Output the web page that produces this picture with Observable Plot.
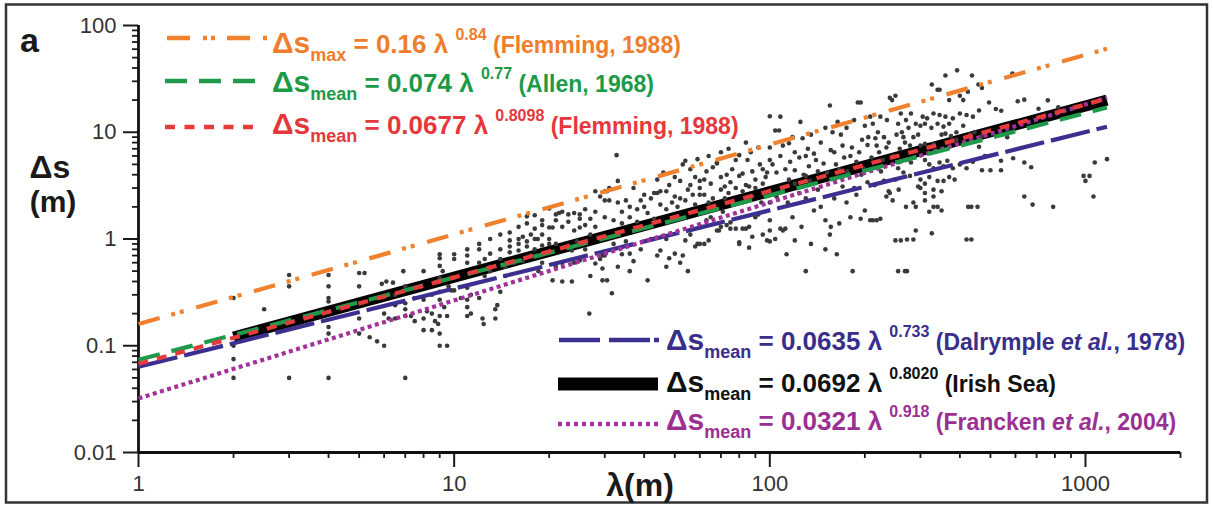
<!DOCTYPE html>
<html><head><meta charset="utf-8">
<script src="https://cdn.jsdelivr.net/npm/d3@7"></script>
<script src="https://cdn.jsdelivr.net/npm/@observablehq/plot@0.6"></script>
<style>body{margin:0;background:#fff} svg{display:block}</style>
</head><body><div id="chart"></div>
<script>
// ---------- data ----------
const xMajorTicks = [1, 10, 100, 1000];
const xMinorTicks = [2,3,4,5,6,7,8,9,20,30,40,50,60,70,80,90,200,300,400,500,600,700,800,900,2000];
const yMajorTicks = [0.01, 0.1, 1, 10, 100];
const yMinorTicks = [0.02,0.03,0.04,0.05,0.06,0.07,0.08,0.09,0.2,0.3,0.4,0.5,0.6,0.7,0.8,0.9,2,3,4,5,6,7,8,9,20,30,40,50,60,70,80,90];

// fitted relations (endpoints of each straight log-log line)
const fitIds = ["maxFlemming","allen","meanFlemming","dalrymple","irishSea","francken"];
const fitColors = ["#f0822f","#1f9a4b","#e63a3b","#3b2f8f","#000000","#a2329b"];
const fitLambdaStart = [1, 1, 1, 1, 2, 1];
const fitLambdaEnd = [1170, 1170, 1170, 1170, 1170, 1170];
const fitDsStart = [0.16, 0.074, 0.0677, 0.0635, 0.1207, 0.0321];
const fitDsEnd = [60.5, 17.05, 20.66, 11.27, 19.98, 21.06];

// observed bedforms [lambda (m), delta s (m)]
const ptsA = [[2,0.28],[2,0.1],[2,0.075],[2,0.05],[2.5,0.22],[3,0.46],[3,0.36],[3,0.05],
[4,0.46],[4,0.36],[4,0.28],[4,0.26],[4,0.15],[4,0.13],[4,0.05],
[5,0.48],[5,0.36],[5,0.18],[5,0.13],[5.2,0.48],
[5.4,0.12],[5.7,0.11],[6,0.1],[5.9,0.38],[6.1,0.4],[6.4,0.39],[6,0.2],[6.2,0.18],[6.5,0.18],
[6.5,0.3],[6.5,0.24],[6.9,0.5],[7,0.36],[7,0.25],[7,0.22],[7,0.19],[7,0.05],[7.3,0.19],[7.5,0.17],[7.5,0.28],
[8,0.5],[8,0.27],[8,0.18],[8,0.14],[8.2,0.21],[8.5,0.3],[8.5,0.2],[8.5,0.14],[8.7,0.17],[8.9,0.16],
[9,0.72],[9,0.66],[9,0.56],[9,0.43],[9,0.32],[9,0.27],[9,0.19],[9,0.13],[9,0.1],[9.5,0.1],[9.5,0.19],[9.3,0.23],[9.6,0.36],[9.8,0.33],[9.2,0.5]];

const ptsB = [[10,0.72],[10,0.65],[10,0.33],[10.5,0.28],[11,0.8],[11,0.7],[11,0.6],[11,0.35],[11.3,0.3],[11,0.27],[11,0.23],[11.3,0.2],[11,0.19],
[12,0.8],[12,0.28],[12.3,0.18],[12,0.6],[12.4,0.16],[12.5,0.65],[13,0.73],[13,0.55],[13.5,0.22],[13.5,0.18],[13,0.5],[13.7,0.24],
[14,0.8],[14,0.65],[14,0.32],[14.5,0.45],[15,0.97],[15,0.75],[15,0.85],[15.5,0.6],[16,1.0],[16,0.9],[16,0.78],[16.5,1.05],
[17,1.63],[17,0.95],[17,0.85],[17.5,1.1],[17.5,0.7],[18,1.67],[18,1.0],[18,0.8],[18.4,1.0],[19,1.1],[19,0.87],[19,0.6],
[20,1.93],[20,1.28],[20,1.0],[20,0.9],[20.5,0.41],[20.5,1.28],[21,1.7],[21,1.5],[21,0.9],[21.5,1.75],[22,1.8],[22,1.3],[22,0.6],[22,0.4],
[23,1.7],[23,1.45],[23,0.87],[23.6,0.78],[23.6,0.4],[24,1.75],[24,1.2],[24,0.6],[25,1.28],[25,1.55],[25,0.63],[25,1.7],[26,1.35],[26,1.9],
[26.8,0.2],[27,1.55],[27,1.1],[27,0.45],[28,2.8],[28,1.8],[28,0.59],[28,1.3],[29,2.5],[29,0.65],[29.5,0.53],[29.5,0.41],[29.5,0.7],
[16,1.3],[17,1.4],[18,1.25],[19,1.5],[19,1.35],[15,1.15],[14,1.1],[13,1.0],[12,0.9],[12.5,0.45],[14.5,0.55],[16.5,0.62],[18.5,0.5],[21,0.55],[24.5,0.95],[26,0.8]];

const ptsC = [[30,2.3],[30,2.8],[30,1.6],[32.7,6.1],[31,3.0],[30.5,2.8],[31,2.3],[33,2.2],[35,2.3],[34,1.8],[36,2.0],[38,1.9],[40,2.0],[40,2.6],[42,2.4],[43,2.7],[44,2.7],[45,2.8],[47,2.8],[48,3.2],
[50,2.5],[52,3.5],[52,2.4],[53,5.0],[54,5.4],[55,2.9],[56,3.2],[57,2.6],[58,3.8],[60,3.5],[60,3.0],[62,3.6],[63,4.3],[65,3.3],[66,4.7],[68,5.1],[68,5.2],
[70,6.5],[70,3.8],[72,3.1],[73,4.0],[75,3.4],[76,4.5],[78,5.5],[80,6.1],[80,3.9],[82,4.1],[84,3.2],[85,5.5],[87,6.5],[88,4.3],[90,3.6],[92,7.2],[93,5.0],[95,4.5],[97,3.8],[98,4.2],
[32,1.5],[34,1.4],[36,1.6],[38,1.45],[41,1.75],[43,1.55],[45,2.1],[47,1.9],[49,2.2],[51,2.0],[54,2.3],[58,2.1],[62,2.6],[66,2.4],[70,2.9],[74,2.7],[78,3.0],[82,2.8],[86,3.1],[90,3.0],[95,3.3],
[30,0.7],[30.5,0.41],[31.6,0.31],[32,0.9],[33,0.55],[34,0.72],[35,0.95],[36,0.5],[36,0.73],[37,0.62],[39,0.8],[41,0.41],[42,1.0],[44,0.7],[45,0.78],[47,1.0],[47,0.55],[48,0.66],
[50,0.73],[52,0.6],[53,0.7],[54,0.97],[55,0.5],[56,1.1],[58,0.85],[59,0.9],[60,0.9],[61,1.3],[62,0.9],[63,1.5],[64,0.97],[65,1.6],[68,1.2],[69,1.2],[70,1.3],[71,1.8],[73,1.35],
[75,1.43],[75,1.25],[78,1.25],[80,0.93],[80,0.9],[82,1.25],[84,1.25],[86,0.83],[86,1.3],[88,1.05],[90,1.6],[92,1.7],[95,1.1],[98,0.97],
[33,3.5],[37,3.0],[39,2.3],[44,3.6],[46,4.2],[50,3.8],[56,4.5],[59,5.6],[64,6.0],[74,7.0],[84,8.0],[60,2.6],[64,2.2],[72,2.4],[88,2.5],[94,2.2]];

const ptsD = [[100,14.1],[100,7.2],[100,5.5],[100,1.2],[100,0.95],[100,1.5],[100,2.2],
[104,10.4],[107,10.4],[108,14],[110,7.5],[115,7.9],[118,9],[120,6.5],[125,12.5],[127,8.8],[130,6],[132,7],[135,9.5],[140,5.5],[145,8],[150,11],
[155,17.8],[158,10],[160,6.5],[164,12.5],[168,9.5],[170,7.5],[175,11],[180,6],[185,13],[190,19],[194,19],[196,8.5],[200,11.5],[205,9],[208,14],
[212,12],[218,7.5],[220,10],[224,14],[230,9],[235,13],[240,21],[244,20],[250,22],[255,12],[260,15],[265,9],[270,13],[275,11],[280,15],[290,12],[295,9.5],
[102,5.0],[105,4.2],[108,6],[112,4.5],[116,5.3],[120,4.4],[124,5.8],[128,4.0],[133,4.8],[138,6.3],[142,4.3],[148,5.1],[152,4.2],[156,6.8],[162,5.0],[166,4.5],
[172,5.8],[176,4.3],[182,7.2],[188,5.3],[192,6.5],[198,4.6],[204,7.6],[210,5.8],[216,8.8],[222,6.5],[228,5.5],[234,7.2],[238,8],[246,6],[252,9.5],[258,7],[262,10],[268,8],[278,7.5],[285,9],
[105,2.5],[110,3.0],[110,1.2],[113,0.72],[114,2.2],[118,1.6],[120,3.3],[124,2.7],[126,1.3],[130,0.5],[130,2.4],[134,3.5],[138,1.85],[142,2.9],[146,3.8],[150,1.5],
[156,1.3],[160,2.4],[163,0.72],[166,1.4],[170,3.1],[175,2.2],[180,1.6],[183,0.5],[188,2.6],[194,1.55],[200,1.85],[204,3.4],[208,1.5],[212,1.5],[218,1.5],[224,1.55],
[230,3.5],[234,2.5],[238,2.8],[240,2.7],[245,2.3],[250,0.97],[255,0.5],[256,2.9],[260,0.97],[265,4.2],[268,0.5],[270,2.0],[272,0.99],[278,3.9],[285,2.2],[290,1.2],[295,3.1],
[104,1.0],[108,1.25],[112,1.25],[120,0.97],[135,0.9],[150,0.8],[155,1.1],[145,2.0],[185,3.0],[215,3.2],[250,3.6],[115,3.6],[130,3.9],[160,3.6],[195,4.0],[225,4.3],[255,4.6],[280,5.2]];

const ptsE = [[326,28],[340,25],[345,25],[360,34],[370,20],[392,38],[400,22],[410,20],[424,24],[437,34],[458,28],[470,26],[495,19],[587,35.5],[610,19.5],[640,20.2],[710,16.6],[760,19.9],[820,17.1],
[305,14],[315,13.5],[330,15],[345,14.5],[360,14],[380,13.5],[400,15],[420,14.5],[440,14],[460,16],[541,15.9],[520,16.5],
[300,11.5],[310,12],[325,11],[340,12],[355,11.3],[370,12],[390,10],[410,11.5],[430,9.5],[445,10],[470,9.2],[565,9],
[300,7.5],[310,7.8],[320,7.3],[330,7.7],[350,9.5],[360,9.7],[375,9.2],[390,8.5],[430,8],[460,7.3],[480,6],
[310,5.5],[320,5.0],[330,4.6],[345,5.2],[355,4.8],[365,5.4],[380,4.6],[400,5],[420,4.6],[440,5.3],[470,4.4],[500,4.4],[540,4.4],[540,5.4],[590,5.7],[640,5.2],[673,4.7],
[300,3.6],[310,3.3],[320,3.8],[340,3.5],[355,3.5],[370,3.8],[385,3.6],[300,3.0],[310,2.7],[330,2.9],[350,2.8],[330,2.5],[310,2.3],
[290,2.0],[330,2.0],[340,2.0],[425,2.0],[435,2.0],[455,2.0],[320,1.8],[350,1.85],[640,2.5],[680,2.1],[790,2.0],
[326,1.13],[285,0.99],[420,0.99],[435,0.99],[272,0.5],
[986,3.9],[1030,3.9],[1000,3.5],[1070,5.2],[1170,5.6],[1060,2.5]];

// ---------- build tables ----------
const points = [...ptsA, ...ptsB, ...ptsC, ...ptsD, ...ptsE].map(([l, s]) => ({l, s}));
const fitRows = fitIds.flatMap((id, i) => [
  {id, l: fitLambdaStart[i], s: fitDsStart[i]},
  {id, l: fitLambdaEnd[i], s: fitDsEnd[i]}
]);
function fitLine(id, strokeWidth, dash) {
  const i = fitIds.indexOf(id);
  return Plot.line(fitRows.filter(d => d.id === id), {
    x: "l", y: "s", stroke: fitColors[i], strokeWidth,
    strokeDasharray: dash, strokeLinecap: "butt"
  });
}

const FONT = "'Liberation Sans', Arial, Helvetica, sans-serif";
const chart = Plot.plot({
  width: 1213, height: 506,
  marginLeft: 138, marginRight: 33, marginTop: 25, marginBottom: 54,
  style: {fontFamily: FONT, fontSize: "22px", color: "#1a1a1a", background: "#fff"},
  x: {type: "log", domain: [1, 2000]},
  y: {type: "log", domain: [0.01, 100]},
  marks: [
    Plot.axisX(xMinorTicks, {tickSize: 6, tickFormat: () => "", label: null, strokeWidth: 1.8}),
    Plot.axisX(xMajorTicks, {tickSize: 15, tickPadding: 8, tickFormat: d => String(d), label: null, strokeWidth: 2, fill: "#333", fontSize: 22}),
    Plot.axisY(yMinorTicks, {tickSize: 6, tickFormat: () => "", label: null, strokeWidth: 1.8}),
    Plot.axisY(yMajorTicks, {tickSize: 15, tickPadding: 7, tickFormat: d => String(d), label: null, strokeWidth: 2, fill: "#333", fontSize: 22}),
    Plot.ruleY([0.01], {stroke: "#111", strokeWidth: 2.8}),
    Plot.ruleX([1], {stroke: "#111", strokeWidth: 2.8}),
    fitLine("irishSea", 11, null),
    Plot.dot(points, {x: "l", y: "s", r: 2.3, fill: "#3a3a3a", stroke: null}),
    fitLine("dalrymple", 4.2, "40 7"),
    fitLine("francken", 4.2, "4 3.5"),
    fitLine("allen", 4.2, "22 12"),
    fitLine("meanFlemming", 4.2, "10 9"),
    fitLine("maxFlemming", 4.2, "22 12 4 5 4 13")
  ]
});
document.getElementById("chart").appendChild(chart);

// ---------- annotations (legend, labels, frame) ----------
const svg = d3.select(chart);
svg.append("rect").attr("x", 6).attr("y", 4.5).attr("width", 1201).attr("height", 498)
  .attr("fill", "none").attr("stroke", "#333").attr("stroke-width", 2.5);

function label(x, y, str, size, anchor = "start", fill = "#1a1a1a") {
  return svg.append("text").attr("x", x).attr("y", y).attr("font-family", FONT)
    .attr("font-weight", "bold").attr("font-size", size).attr("text-anchor", anchor)
    .attr("fill", fill).style("white-space", "pre").text(str);
}
label(20, 52, "a", 34);
label(50, 178, "Δs", 32, "middle");
label(53, 212, "(m)", 30, "middle");
label(640, 496, "λ(m)", 32, "middle");

const sizeOf = {big: 30, sub: 18, eq: 26, sup: 16, cite: 23, it: 23};
const offOf = {big: 0, sub: 8, eq: 0, sup: -13, cite: 0, it: 0};
function legendRow(x, y, color, parts) {
  const t = svg.append("text").attr("x", x).attr("y", y).attr("fill", color)
    .attr("text-anchor", "start")
    .attr("font-family", FONT).attr("font-weight", "bold").style("white-space", "pre");
  let cur = 0;
  for (const [str, kind] of parts) {
    const off = offOf[kind];
    t.append("tspan").attr("dy", off - cur).attr("font-size", sizeOf[kind])
      .attr("font-style", kind === "it" ? "italic" : "normal").text(str);
    cur = off;
  }
}
function sample(x1, x2, y, color, width, dash) {
  const l = svg.append("line").attr("x1", x1).attr("x2", x2).attr("y1", y).attr("y2", y)
    .attr("stroke", color).attr("stroke-width", width);
  if (dash) l.attr("stroke-dasharray", dash);
}
sample(167, 268, 38, fitColors[0], 4.5, "23 13 4 4 4 12");
sample(165, 258, 81, fitColors[1], 4.5, "22 12");
sample(165, 256, 127, fitColors[2], 4.5, "10 9.5");
sample(559, 661, 340, fitColors[3], 4.5, "41 9 41 4 5 100");
sample(558, 658, 384, fitColors[4], 13, null);
sample(558, 660, 424, fitColors[5], 4.5, "4 4");

legendRow(272, 53, "#ef7d2c", [["Δs","big"],["max","sub"],[" = 0.16 λ ","eq"],["0.84","sup"],[" (Flemming, 1988)","cite"]]);
legendRow(272, 92, "#1c9a48", [["Δs","big"],["mean","sub"],[" = 0.074 λ ","eq"],["0.77","sup"],[" (Allen, 1968)","cite"]]);
legendRow(272, 134, "#e5383b", [["Δs","big"],["mean","sub"],[" = 0.0677 λ ","eq"],["0.8098","sup"],[" (Flemming, 1988)","cite"]]);
legendRow(666, 350, "#3a2e8c", [["Δs","big"],["mean","sub"],[" = 0.0635 λ ","eq"],["0.733","sup"],[" (Dalrymple ","cite"],["et al.","it"],[", 1978)","cite"]]);
legendRow(666, 392, "#111111", [["Δs","big"],["mean","sub"],[" = 0.0692 λ ","eq"],["0.8020","sup"],[" (Irish Sea)","cite"]]);
legendRow(666, 430, "#9c2f92", [["Δs","big"],["mean","sub"],[" = 0.0321 λ ","eq"],["0.918","sup"],[" (Francken ","cite"],["et al.","it"],[", 2004)","cite"]]);
</script>
</body></html>
